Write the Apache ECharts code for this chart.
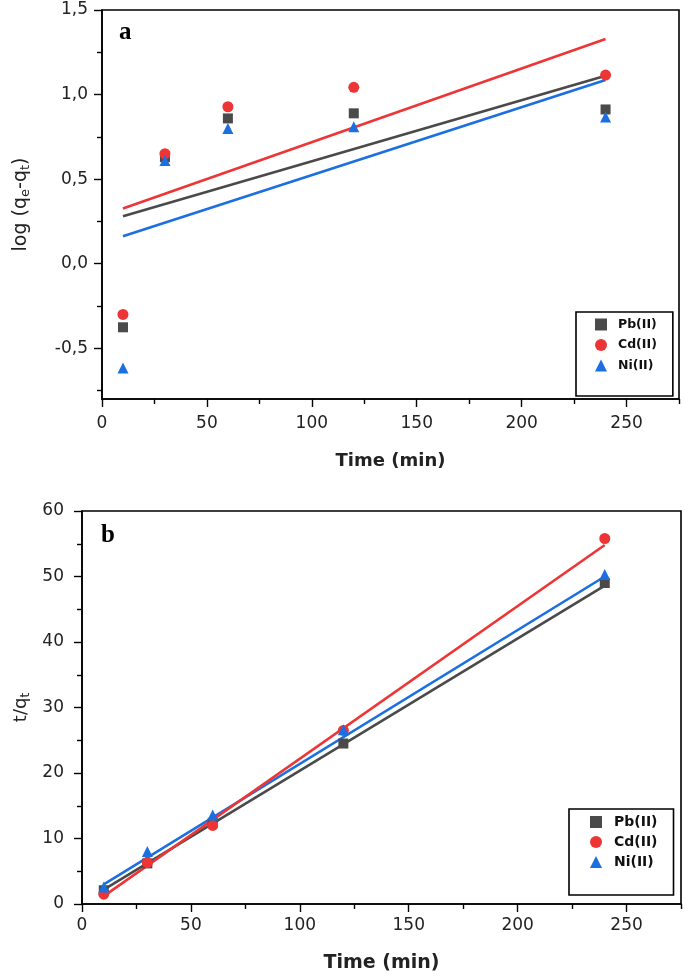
<!DOCTYPE html>
<html>
<head>
<meta charset="utf-8">
<script src="https://cdn.jsdelivr.net/npm/echarts@6/dist/echarts.min.js"></script>
<style>
html,body{margin:0;padding:0;background:#fff;}
#c{width:685px;height:977px;}
</style>
</head>
<body>
<div id="c"></div>
<script>
// ---- data ----
var time = [10, 30, 60, 120, 240];
var fitTime = [10, 240];
// panel a: log(qe-qt)
var pbA = [-0.376, 0.63, 0.859, 0.889, 0.912];
var cdA = [-0.300, 0.65, 0.928, 1.043, 1.115];
var niA = [-0.616, 0.61, 0.80, 0.81, 0.868];
var pbFitA = [0.280, 1.111];
var cdFitA = [0.326, 1.329];
var niFitA = [0.162, 1.086];
// panel b: t/qt
var pbB = [2.1, 6.2, 12.4, 24.5, 49.0];
var cdB = [1.5, 6.3, 12.0, 26.5, 55.8];
var niB = [2.6, 8.0, 13.6, 26.6, 50.3];
var pbFitB = [2.2, 48.6];
var cdFitB = [1.2, 54.8];
var niFitB = [3.0, 50.0];
var names = ['Pb(II)', 'Cd(II)', 'Ni(II)'];
// ticks
var xTicks = [0, 50, 100, 150, 200, 250];
var xMinorTicks = [25, 75, 125, 175, 225, 275];
var yTicksA = [-0.5, 0, 0.5, 1.0, 1.5];
var yMinorTicksA = [-0.75, -0.25, 0.25, 0.75, 1.25];
var yTicksB = [0, 10, 20, 30, 40, 50, 60];
var yMinorTicksB = [5, 15, 25, 35, 45, 55];

var colors = ['#4a4a4a', '#ee3535', '#1b6fe0'];
var symbols = ['rect', 'circle', 'triangle'];
var FONT = 'DejaVu Sans, Verdana, sans-serif';

function pairs(xs, ys) { return xs.map(function (x, i) { return [x, ys[i]]; }); }

var axisLineStyle = { color: '#000', width: 1.6 };
var tickLine = { color: '#000', width: 1.4 };

function scatter(name, data, i, xi, yi, size) {
  return {
    type: 'scatter', name: name, data: data, xAxisIndex: xi, yAxisIndex: yi,
    symbol: symbols[i], symbolSize: size[i], itemStyle: { color: colors[i], opacity: 1 }, z: 5
  };
}
function fit(data, i, xi, yi) {
  return {
    type: 'line', name: 'fit' + i + '_' + xi, data: data, xAxisIndex: xi, yAxisIndex: yi,
    showSymbol: false, lineStyle: { color: colors[i], width: 2.6 }, z: 3
  };
}

var sizes = [10, 11, 11];

function xMajor(grid, nameGap, nameSize, labelMargin) {
  return {
    type: 'value', gridIndex: grid, min: 0, max: 275, position: 'bottom',
    name: 'Time (min)', nameLocation: 'middle', nameGap: nameGap,
    nameTextStyle: { fontFamily: FONT, fontWeight: 'bold', fontSize: nameSize, color: '#222' },
    axisLine: { show: true, onZero: false, lineStyle: axisLineStyle },
    axisTick: { show: true, length: 8, customValues: xTicks, lineStyle: tickLine },
    axisLabel: { fontFamily: FONT, fontSize: 17, color: '#222', margin: labelMargin, customValues: xTicks },
    splitLine: { show: false }
  };
}
function xMinor(grid) {
  return {
    type: 'value', gridIndex: grid, min: 0, max: 275, position: 'bottom',
    axisLine: { show: false, onZero: false }, axisLabel: { show: false }, splitLine: { show: false },
    axisTick: { show: true, length: 5, customValues: xMinorTicks, lineStyle: tickLine }
  };
}
function yMinor(grid, min, max, vals) {
  return {
    type: 'value', gridIndex: grid, min: min, max: max, position: 'left',
    axisLine: { show: false, onZero: false }, axisLabel: { show: false }, splitLine: { show: false },
    axisTick: { show: true, length: 5, customValues: vals, lineStyle: tickLine }
  };
}

var option = {
  animation: false,
  backgroundColor: '#fff',
  title: [
    { text: 'a', left: 114, top: 15, textStyle: { fontFamily: 'Liberation Serif, Times New Roman, serif', fontWeight: 'bold', fontSize: 25, color: '#000' } },
    { text: 'b', left: 96, top: 518, textStyle: { fontFamily: 'Liberation Serif, Times New Roman, serif', fontWeight: 'bold', fontSize: 25, color: '#000' } }
  ],
  legend: [
    {
      data: names, left: 576, top: 312, orient: 'vertical', itemWidth: 12, itemHeight: 12, itemGap: 7.5,
      padding: [6, 16, 24, 19], borderColor: '#000', borderWidth: 1.6, backgroundColor: '#fff',
      textStyle: { fontFamily: FONT, fontWeight: 'bold', fontSize: 12.5, color: '#111', padding: [0, 0, 0, 6] },
      selectedMode: false
    },
    {
      data: names, left: 569, top: 809, orient: 'vertical', itemWidth: 12, itemHeight: 12, itemGap: 6,
      padding: [6, 16, 26, 21], borderColor: '#000', borderWidth: 1.6, backgroundColor: '#fff',
      textStyle: { fontFamily: FONT, fontWeight: 'bold', fontSize: 14, color: '#111', padding: [0, 0, 0, 7] },
      selectedMode: false
    }
  ],
  grid: [
    { left: 102, right: 6, top: 10, bottom: 578, show: true, borderColor: '#000', borderWidth: 1.6, backgroundColor: 'transparent' },
    { left: 82, right: 4, top: 511, bottom: 73, show: true, borderColor: '#000', borderWidth: 1.6, backgroundColor: 'transparent' }
  ],
  xAxis: [xMajor(0, 53, 18, 16), xMajor(1, 50, 19, 13), xMinor(0), xMinor(1)],
  yAxis: [
    {
      type: 'value', gridIndex: 0, min: -0.8, max: 1.5,
      name: 'log (q{s|e}-q{s|t})', nameLocation: 'middle', nameGap: 70,
      nameTextStyle: { fontFamily: FONT, fontSize: 19, color: '#222', rich: { s: { fontFamily: FONT, fontSize: 13, color: '#222', padding: [9, 0, 0, 0] } } },
      axisLine: { show: true, onZero: false, lineStyle: axisLineStyle },
      axisTick: { show: true, length: 8, customValues: yTicksA, lineStyle: tickLine },
      axisLabel: {
        fontFamily: FONT, fontSize: 17, color: '#222', margin: 14, customValues: yTicksA,
        formatter: function (v) { return v.toFixed(1).replace('.', ','); }
      },
      splitLine: { show: false }
    },
    {
      type: 'value', gridIndex: 1, min: 0, max: 60,
      name: 't/q{s|t}', nameLocation: 'middle', nameGap: 50,
      nameTextStyle: { fontFamily: FONT, fontSize: 18, color: '#222', rich: { s: { fontFamily: FONT, fontSize: 12, color: '#222', padding: [9, 0, 0, 0] } } },
      axisLine: { show: true, onZero: false, lineStyle: axisLineStyle },
      axisTick: { show: true, length: 8, customValues: yTicksB, lineStyle: tickLine },
      axisLabel: { fontFamily: FONT, fontSize: 17, color: '#222', margin: 18, customValues: yTicksB },
      splitLine: { show: false }
    },
    yMinor(0, -0.8, 1.5, yMinorTicksA),
    yMinor(1, 0, 60, yMinorTicksB)
  ],
  series: [
    fit(pairs(fitTime, pbFitA), 0, 0, 0),
    fit(pairs(fitTime, cdFitA), 1, 0, 0),
    fit(pairs(fitTime, niFitA), 2, 0, 0),
    scatter(names[0], pairs(time, pbA), 0, 0, 0, sizes),
    scatter(names[1], pairs(time, cdA), 1, 0, 0, sizes),
    scatter(names[2], pairs(time, niA), 2, 0, 0, sizes),
    fit(pairs(fitTime, pbFitB), 0, 1, 1),
    fit(pairs(fitTime, niFitB), 2, 1, 1),
    fit(pairs(fitTime, cdFitB), 1, 1, 1),
    scatter(names[0], pairs(time, pbB), 0, 1, 1, sizes),
    scatter(names[1], pairs(time, cdB), 1, 1, 1, sizes),
    scatter(names[2], pairs(time, niB), 2, 1, 1, sizes)
  ]
};
var chart = echarts.init(document.getElementById('c'), null, { renderer: 'canvas' });
chart.setOption(option);
</script>
</body>
</html>
